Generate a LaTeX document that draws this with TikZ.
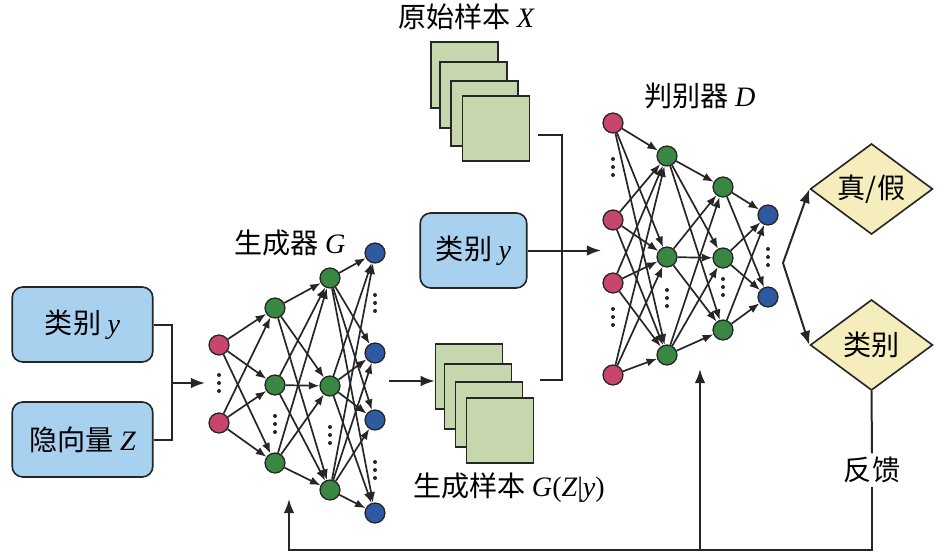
\documentclass[tikz,border=0pt]{standalone}
\usepackage{fontspec}
\setmainfont{Noto Sans CJK SC}
\newfontfamily\lat{Liberation Serif}
\newcommand{\var}[1]{{\lat\itshape #1}}
\newcommand{\vdotsat}[2]{\foreach \k in {-8,0,8} \fill[black!85] (#1,#2+\k) circle (1.7pt);}
\usetikzlibrary{arrows.meta,shapes.geometric}
\definecolor{nred}{HTML}{C8466C}
\definecolor{ngreen}{HTML}{3A8744}
\definecolor{nblue}{HTML}{2D5AA0}
\definecolor{boxblue}{HTML}{A8D0EF}
\definecolor{sgreen}{HTML}{C6D7AE}
\definecolor{dyellow}{HTML}{F6EDBD}

\begin{document}
\begin{tikzpicture}[x=0.03cm, y=-0.03cm,
    neuron/.style={circle, draw=black!85, line width=1.1pt, minimum size=17pt, inner sep=0pt},
    inp/.style={neuron, fill=nred},
    hid/.style={neuron, fill=ngreen},
    outp/.style={neuron, fill=nblue},
    edge/.style={-{Latex[length=9pt,width=7pt]}, line width=1.45pt, black!85},
    link/.style={line width=1.7pt, black!85},
    arrow/.style={link, -{Latex[length=12pt,width=9pt]}},
    txt/.style={font=\fontsize{24}{28}\selectfont},
    labelbox/.style={txt, draw=black!85, line width=1.4pt, fill=boxblue, rounded corners=9pt, minimum height=64pt},
    sample/.style={draw=black!85, line width=1.4pt, fill=sgreen, minimum width=57pt, minimum height=56pt, inner sep=0pt},
    outbox/.style={txt, diamond, aspect=1.34, draw=black!85, line width=1.4pt, fill=dyellow, minimum width=104.6pt, minimum height=77.4pt, inner sep=0pt}]
    \useasboundingbox (0,0) rectangle (945,554);

    \node[labelbox, minimum width=120pt] (ly) at (82.5,324.5) {类别 \var{y}};
    \node[labelbox, minimum width=120pt] (lz) at (82.5,439.5) {隐向量 \var{Z}};
    \node[labelbox, minimum width=91pt] (my) at (473.5,250.5) {类别 \var{y}};

    \foreach \y [count=\i] in {345,423} \node[inp] (g0-\i) at (219,\y) {};
    \foreach \y [count=\i] in {308,385,463} \node[hid] (g1-\i) at (275,\y) {};
    \foreach \y [count=\i] in {278,386,490} \node[hid] (g2-\i) at (330,\y) {};
    \foreach \y [count=\i] in {253,353,420,513} \node[outp] (g3-\i) at (375,\y) {};
    \foreach \a in {1,2} \foreach \b in {1,2,3} \draw[edge] (g0-\a) -- (g1-\b);
    \foreach \a in {1,2,3} \foreach \b in {1,2,3} \draw[edge] (g1-\a) -- (g2-\b);
    \foreach \a in {1,2,3} \foreach \b in {1,2,3,4} \draw[edge] (g2-\a) -- (g3-\b);
    \vdotsat{219}{383}
    \vdotsat{275}{424}
    \vdotsat{330}{435}
    \vdotsat{375}{303}
    \vdotsat{375}{470}

    \foreach \y [count=\i] in {123,220,283,375} \node[inp] (d0-\i) at (613,\y) {};
    \foreach \y [count=\i] in {156,257,355} \node[hid] (d1-\i) at (667,\y) {};
    \foreach \y [count=\i] in {187,258,330} \node[hid] (d2-\i) at (723,\y) {};
    \foreach \y [count=\i] in {215,297} \node[outp] (d3-\i) at (768,\y) {};
    \foreach \a in {1,2,3,4} \foreach \b in {1,2,3} \draw[edge] (d0-\a) -- (d1-\b);
    \foreach \a in {1,2,3} \foreach \b in {1,2,3} \draw[edge] (d1-\a) -- (d2-\b);
    \foreach \a in {1,2,3} \foreach \b in {1,2} \draw[edge] (d2-\a) -- (d3-\b);
    \vdotsat{613}{167}
    \vdotsat{613}{317}
    \vdotsat{667}{298}
    \vdotsat{723}{287}
    \vdotsat{768}{257}

    \node[sample] (xs1) at (464.5,75) {};
    \node[sample] (xs2) at (473.5,95) {};
    \node[sample] (xs3) at (484.5,113.5) {};
    \node[sample] (xs4) at (496,128.5) {};
    \node[sample] (gs1) at (469,376.5) {};
    \node[sample] (gs2) at (478,396.5) {};
    \node[sample] (gs3) at (489,414.5) {};
    \node[sample] (gs4) at (500,430.5) {};

    \node[outbox] (tf) at (871.5,189) {真/假};
    \node[outbox] (cls) at (871.5,345) {类别};

    \node[txt] (xlabel) at (466,17) {原始样本 \var{X}};
    \node[txt] (glabel) at (290,243) {生成器 \var{G}};
    \node[txt] (dlabel) at (700,96) {判别器 \var{D}};
    \node[txt] (gslabel) at (509,488) {生成样本 \var{G}{\lat(}\var{Z}{\lat|}\var{y}{\lat)}};
    \node[txt, inner sep=3pt] (fb) at (872,470) {反馈};

    \coordinate (lj) at (172,383);
    \coordinate (gin) at (205,383);
    \coordinate (gout) at (389,381);
    \coordinate (xo) at (538,135);
    \coordinate (j1) at (562,135);
    \coordinate (j2) at (562,380);
    \coordinate (go) at (540,380);
    \coordinate (din) at (601,250.5);
    \coordinate (fork) at (783,263);
    \coordinate (fbc) at (872,550);
    \coordinate (gfb) at (289,499);
    \coordinate (dbr) at (700,550);
    \coordinate (dfb) at (700,369);

    \draw[link] (ly.east) -| (lj) |- (lz.east);
    \draw[arrow] (lj) -- (gin);
    \draw[arrow] (gout) -- (gout -| gs1.west);
    \draw[link] (xo) -- (j1) -- (j2) -- (go);
    \draw[arrow] (my.east) -- (din);
    \draw[link, {Latex[length=12pt,width=9pt]}-{Latex[length=12pt,width=9pt]}] (tf.west) -- (fork) -- (cls.west);
    \draw[link] (cls.south) -- (fb.north);
    \draw[arrow] (fb.south) -- (fbc) -| (gfb);
    \draw[arrow] (dbr) -- (dfb);
\end{tikzpicture}
\end{document}
